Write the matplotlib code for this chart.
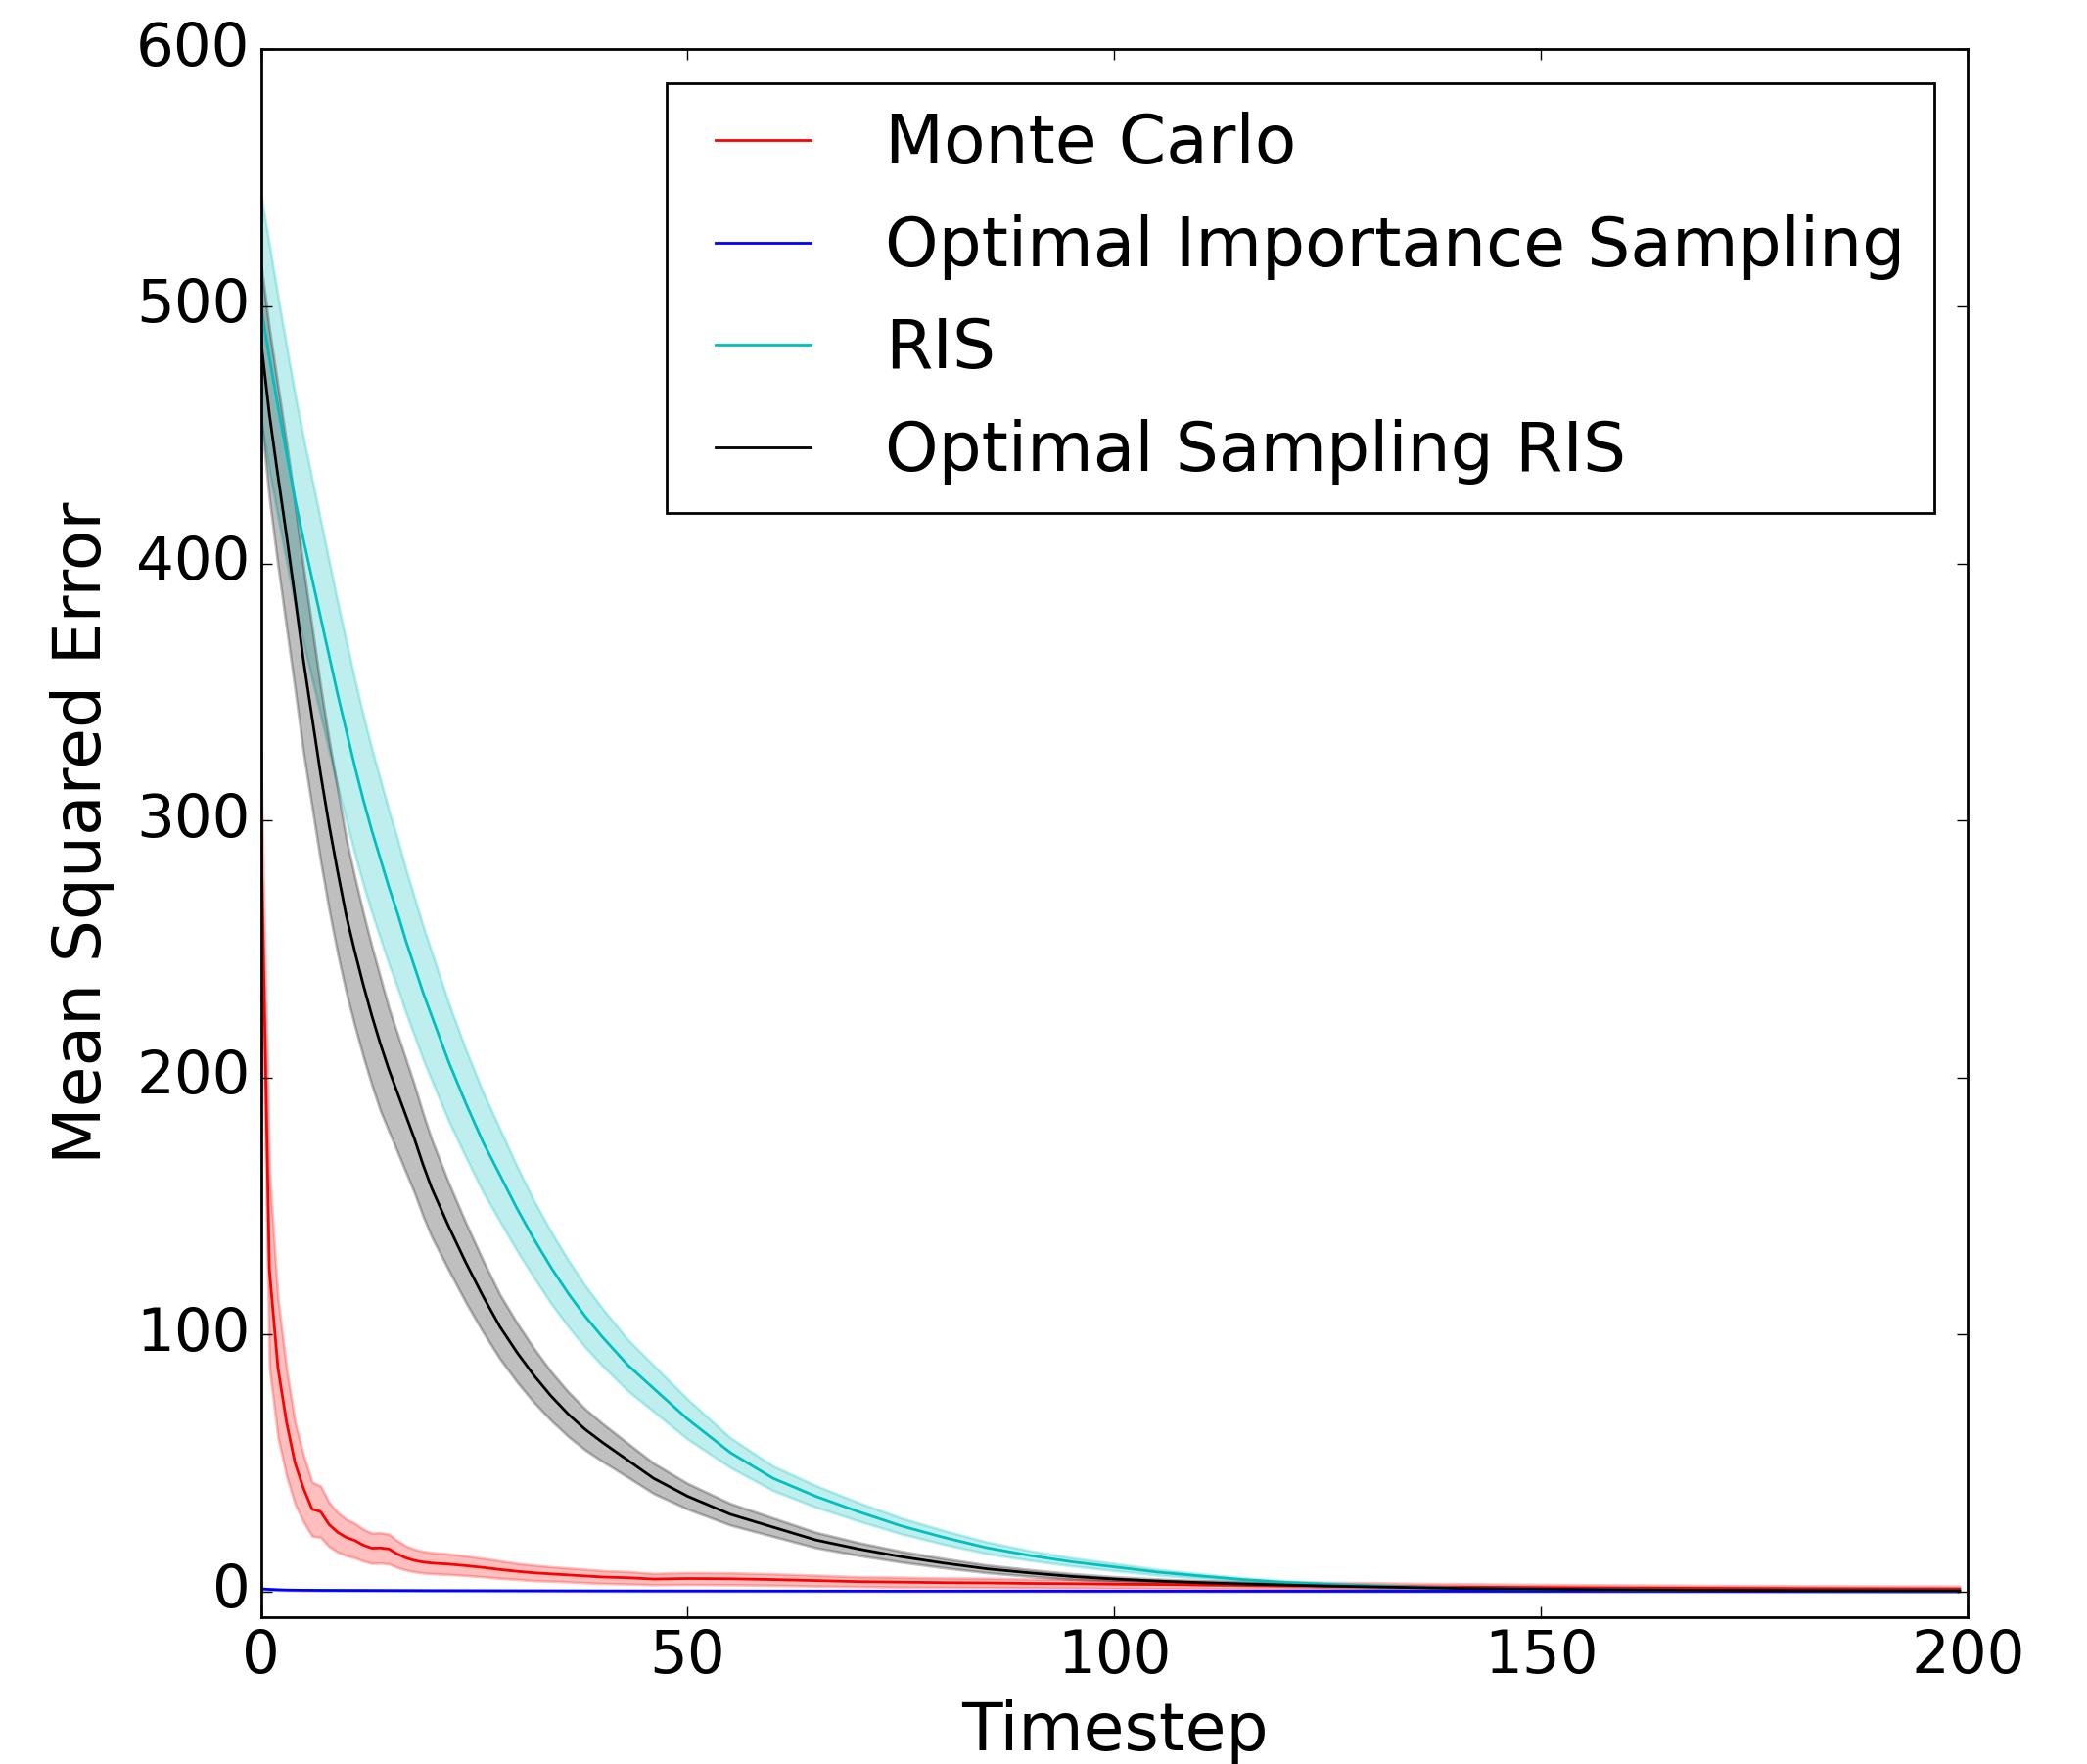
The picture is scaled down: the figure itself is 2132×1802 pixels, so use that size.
import matplotlib
matplotlib.use("Agg")
import matplotlib.pyplot as plt
import numpy as np

plt.style.use("classic")

# Timesteps at which the averaged errors are recorded
timesteps = [0, 1, 2, 3, 4, 5, 6, 7, 8, 9, 10, 11, 12, 13, 14, 15, 16, 17, 18, 19, 20,
             22, 24, 26, 28, 30, 32, 34, 36, 38, 40, 43, 46, 50,
             55, 60, 65, 70, 75, 80, 85, 90, 95, 100, 105, 110, 115, 120, 125, 130, 135, 140,
             150, 160, 170, 180, 190, 199]

# Monte Carlo
mc_mean = [300, 125, 87, 66, 50, 40, 32, 31, 26, 23, 21, 19.8, 18, 16.8, 16.9, 16.5, 14.5, 13, 12, 11.4, 11,
           10.6, 10.0, 9.3, 8.5, 7.8, 7.2, 6.8, 6.4, 6.0, 5.6, 5.3, 4.8, 5.0,
           4.9, 4.6, 4.2, 3.8, 3.6, 3.4, 3.3, 3.1, 3.0, 2.8, 2.7, 2.5, 2.4, 2.2, 2.1, 2.0, 1.8, 1.7,
           1.5, 1.3, 1.2, 1.1, 1.0, 0.95]
mc_spread = [25, 38, 27, 21, 16, 13, 10.5, 10, 8.6, 7.7, 7.1, 6.7, 6.2, 5.9, 5.9, 5.8, 5.2, 4.7, 4.4, 4.2, 4.1,
             4.0, 3.8, 3.6, 3.4, 3.1, 3.0, 2.8, 2.7, 2.6, 2.5, 2.4, 2.2, 2.3,
             2.3, 2.2, 2.1, 1.9, 1.9, 1.8, 1.8, 1.7, 1.7, 1.6, 1.6, 1.5, 1.5, 1.4, 1.4, 1.4, 1.3, 1.3,
             1.2, 1.2, 1.1, 1.1, 1.1, 1.1]

# Optimal Importance Sampling
ois_mean = [1.0, 0.8, 0.65, 0.55, 0.5, 0.47, 0.45, 0.43, 0.42, 0.41, 0.4, 0.39, 0.38, 0.37, 0.36, 0.35, 0.34, 0.33, 0.32, 0.31, 0.3,
            0.29, 0.28, 0.27, 0.26, 0.25, 0.24, 0.23, 0.22, 0.21, 0.2, 0.19, 0.18, 0.17,
            0.16, 0.15, 0.14, 0.13, 0.12, 0.12, 0.11, 0.11, 0.1, 0.1, 0.09, 0.09, 0.08, 0.08, 0.08, 0.07, 0.07, 0.07,
            0.06, 0.06, 0.05, 0.05, 0.05, 0.05]
ois_spread = [0.2, 0.15, 0.12, 0.1, 0.1, 0.1, 0.1, 0.1, 0.1, 0.1, 0.1, 0.1, 0.1, 0.1, 0.1, 0.1, 0.1, 0.1, 0.1, 0.1, 0.1,
              0.1, 0.1, 0.1, 0.1, 0.1, 0.1, 0.1, 0.1, 0.1, 0.1, 0.1, 0.1, 0.1,
              0.08, 0.08, 0.08, 0.08, 0.08, 0.08, 0.08, 0.08, 0.08, 0.08, 0.08, 0.08, 0.08, 0.08, 0.08, 0.08, 0.08, 0.08,
              0.06, 0.06, 0.06, 0.06, 0.06, 0.06]

# RIS
ris_mean = [500, 480, 461, 443, 425, 409, 394, 379, 364, 349, 335, 321, 308, 296, 285, 274, 264, 253, 243, 233, 224,
            206, 190, 175, 162, 149, 137, 126, 116, 107, 99, 88, 79, 67,
            54, 44, 37, 31, 25.5, 21, 17, 14, 11.5, 9.5, 7.5, 6.0, 4.6, 3.5, 2.8, 2.2, 1.7, 1.3,
            0.9, 0.6, 0.45, 0.35, 0.3, 0.25]
ris_spread = [44, 44, 43, 42, 41, 40, 39, 38, 37, 36, 35, 34, 33, 32, 31, 30, 29, 28, 27, 26, 25,
              23, 21, 19.5, 18, 16.5, 15, 14, 13, 12, 11.2, 10, 9, 7.8,
              5.8, 4.8, 4.2, 3.6, 3.1, 2.7, 2.3, 1.9, 1.6, 1.4, 1.1, 0.9, 0.75, 0.6, 0.5, 0.45, 0.4, 0.35,
              0.3, 0.25, 0.25, 0.25, 0.25, 0.25]

# Optimal Sampling RIS
osris_mean = [487, 458, 434, 411, 387, 362, 340, 318, 298, 280, 263, 249, 236, 224, 213, 203, 194, 185, 176, 166, 157,
              142, 128, 115, 103, 93, 84, 76, 69, 63, 58, 51, 44, 37,
              30, 25, 20, 16.5, 13.5, 11, 8.8, 7.2, 5.8, 4.8, 4.0, 3.4, 2.9, 2.5, 2.1, 1.8, 1.5, 1.2,
              0.9, 0.6, 0.45, 0.35, 0.3, 0.25]
osris_spread = [30, 33, 35, 36, 36, 36, 35, 34, 33, 32, 30, 29, 28, 27, 26, 24, 23, 22, 21, 20, 19,
                17, 15.5, 14, 12.5, 11.5, 10.5, 9.5, 8.7, 8, 7.4, 6.6, 5.9, 5.0,
                4.2, 3.6, 3.0, 2.5, 2.1, 1.8, 1.5, 1.3, 1.1, 0.9, 0.8, 0.7, 0.6, 0.5, 0.45, 0.4, 0.35, 0.3,
                0.3, 0.25, 0.25, 0.25, 0.25, 0.25]

series = [
    ("Monte Carlo", mc_mean, mc_spread, "r"),
    ("Optimal Importance Sampling", ois_mean, ois_spread, "b"),
    ("RIS", ris_mean, ris_spread, "c"),
    ("Optimal Sampling RIS", osris_mean, osris_spread, "k"),
]

x_ticks = [0, 50, 100, 150, 200]
y_ticks = [0, 100, 200, 300, 400, 500, 600]

fig = plt.figure(figsize=(10.66, 9.01), dpi=200, facecolor="white")
ax = fig.add_axes([0.125, 0.0833, 0.818, 0.8887])

t = np.array(timesteps, dtype=float)
for label, mean, spread, color in series:
    m = np.array(mean, dtype=float)
    s = np.array(spread, dtype=float)
    ax.plot(t, m, color=color, lw=1.0, label=label)
    ax.fill_between(t, m - s, m + s, color=color, alpha=0.25)

ax.set_xlim(0, 200)
ax.set_ylim(-10, 600)
ax.set_xticks(x_ticks)
ax.set_yticks(y_ticks)
ax.tick_params(labelsize=22)
ax.set_xlabel("Timestep", fontsize=24.5)
ax.set_ylabel("Mean Squared Error", fontsize=24.5, labelpad=8)
ax.legend(loc="upper right", fontsize=25, labelspacing=0.54, borderpad=0.42)

fig.savefig("out.png", dpi=200, facecolor="white")
